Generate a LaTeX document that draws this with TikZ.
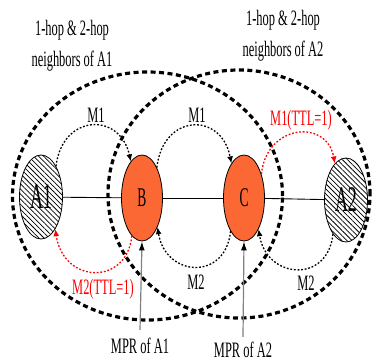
\documentclass[tikz,border=0pt]{standalone}
\usepackage{fontspec}
\setmainfont{Liberation Serif}
\usepackage{graphicx}
\usetikzlibrary{arrows.meta,patterns.meta,shapes.geometric}
\definecolor{nodeorange}{RGB}{252,104,52}
\begin{document}
\begin{tikzpicture}[x=1pt,y=-1pt,
  bigring/.style={line width=3.2pt, dash pattern=on 5pt off 3.5pt},
  hatched/.style={ellipse, draw, line width=0.8pt, minimum width=43pt, minimum height=84pt, inner sep=0pt,
    preaction={fill=white}, pattern={Lines[angle=-45,distance=3.6pt,line width=0.75pt]},
    font=\fontsize{36}{36}\selectfont},
  mprnode/.style={ellipse, draw, line width=0.8pt, fill=nodeorange, minimum width=41pt, minimum height=86pt,
    inner sep=0pt, font=\fontsize{27}{27}\selectfont},
  msg/.style={line width=1.3pt, dash pattern=on 1.8pt off 1.8pt, -{Latex[length=7pt,width=6pt]}},
  redmsg/.style={msg, red},
  lbl/.style={font=\fontsize{22}{31}\selectfont, xscale=0.565, inner sep=0pt, align=center},
  mprarrow/.style={gray, line width=1.2pt, -{Latex[length=9pt,width=6pt,color=black]}}
]
\useasboundingbox (0,0) rectangle (375,362);

% neighbourhood rings
\draw[bigring] (147.5,196) ellipse [x radius=135pt, y radius=124pt];
\draw[bigring] (239,194) ellipse [x radius=131pt, y radius=124pt];

% nodes
\node[hatched] (A1) at (41,197) {\scalebox{0.5}[1]{A1}};
\node[mprnode] (B) at (142,198) {\scalebox{0.5}[1]{B}};
\node[mprnode] (C) at (244,198) {\scalebox{0.5}[1]{C}};
\node[hatched] (A2) at (346,200) {\scalebox{0.5}[1]{A2}};

% links
\draw[line width=0.9pt] (A1) -- (B);
\draw[line width=0.9pt] (B) -- (C);
\draw[line width=0.9pt] (C) -- (A2);

% top labels
\node[lbl] (n1) at (72,46) {1-hop \& 2-hop\\neighbors of A1};
\node[lbl] (n2) at (283,36) {1-hop \& 2-hop\\neighbors of A2};

% messages over the top
\draw[msg] (A1.64) .. controls +(6,-52) and +(-11,-50) .. (B.107);
\draw[msg] (B.64) .. controls +(6,-54) and +(-10,-52) .. (C.110);
\draw[redmsg] (C.54) .. controls +(5,-50) and +(-8,-45) .. (A2.107);
\node[lbl] (m1a) at (96,115) {M1};
\node[lbl] (m1b) at (197,115) {M1};
\node[lbl, red] (m1c) at (301,120) {M1(TTL=1)};

% messages underneath
\draw[redmsg] (B.255) .. controls +(-5,50) and +(8,55) .. (A1.-66);
\draw[msg] (C.-112) .. controls +(-5,50) and +(8,50) .. (B.-62);
\draw[msg] (A2.-111) .. controls +(-5,50) and +(8,50) .. (C.-65);
\node[lbl, red] (m2a) at (103,289) {M2(TTL=1)};
\node[lbl] (m2b) at (196,282) {M2};
\node[lbl] (m2c) at (306,283) {M2};

% MPR labels
\node[lbl] (p1) at (140,346) {MPR of A1};
\node[lbl] (p2) at (243,350) {MPR of A2};
\draw[mprarrow] ([yshift=8pt]p1.north) -- (B.south);
\draw[mprarrow] ([yshift=5pt]p2.north) -- (C.south);
\end{tikzpicture}
\end{document}
